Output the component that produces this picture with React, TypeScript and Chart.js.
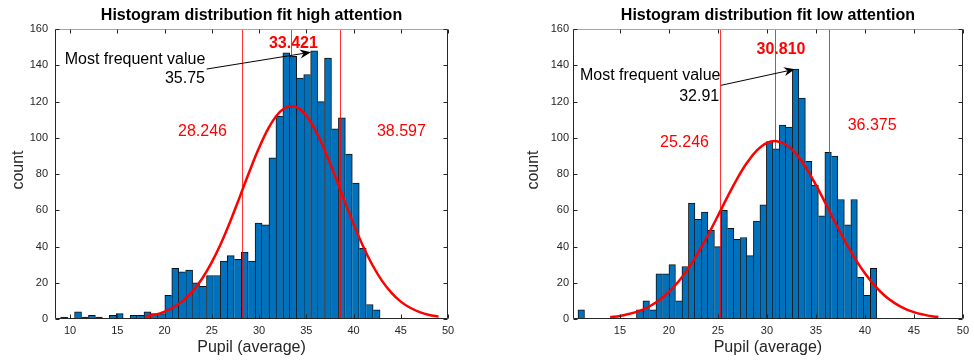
import React, { useEffect, useRef } from "react";
import { Chart, registerables } from "chart.js";

Chart.register(...registerables);

const FONT = "'Liberation Sans', Arial, Helvetica, sans-serif";
const AXIS_COLOR = "#262626";

// ---------- High attention ----------
const highCounts = [
  1, 0, 4, 1, 2, 1, 0, 2, 3, 0,
  2, 2, 4, 3, 3, 13, 28, 26, 27, 20,
  18, 24, 24, 32, 35, 33, 37, 32, 53, 52,
  89, 112, 147, 145, 133, 135, 148, 120, 144, 105,
  111, 91, 75, 39, 8, 5,
];
const highBinStart = 9.0;
const highBinWidth = 0.735;
const highFitX = [18, 19, 20, 21, 22, 23, 24, 25, 26, 27, 28, 29, 30, 31, 32, 33, 34, 35, 36, 37, 38, 39, 40, 41, 42, 43, 44, 45, 46, 47, 48, 49];
const highFitY = [1.4, 2.4, 4.1, 6.6, 10.3, 15.5, 22.5, 31.4, 42.1, 54.5, 68.0, 81.7, 94.5, 105.4, 113.2, 117.1, 116.8, 112.2, 103.8, 92.5, 79.5, 65.8, 52.5, 40.3, 29.8, 21.2, 14.6, 9.6, 6.2, 3.8, 2.2, 1.3];
const highMarkers = [28.246, 33.421, 38.597];
const highXTicks = [10, 15, 20, 25, 30, 35, 40, 45, 50];

// ---------- Low attention ----------
const lowCounts = [
  5, 0, 0, 0, 0, 0, 0, 0, 0, 5,
  10, 5, 25, 25, 30, 10, 29, 64, 55, 59,
  49, 40, 60, 50, 44, 45, 35, 54, 63, 98,
  94, 107, 106, 138, 122, 87, 74, 57, 92, 90,
  66, 52, 66, 23, 13, 28,
];
const lowBinStart = 10.72;
const lowBinWidth = 0.663;
const lowFitX = [14, 15, 16, 17, 18, 19, 20, 21, 22, 23, 24, 25, 26, 27, 28, 29, 30, 31, 32, 33, 34, 35, 36, 37, 38, 39, 40, 41, 42, 43, 44, 45, 46, 47, 47.5];
const lowFitY = [1.0, 1.7, 2.9, 4.5, 6.9, 10.3, 14.9, 20.8, 28.1, 36.7, 46.5, 57.0, 67.7, 77.8, 86.5, 93.2, 97.3, 98.2, 96.1, 91.0, 83.4, 74.0, 63.6, 52.9, 42.7, 33.3, 25.2, 18.4, 13.0, 8.9, 5.9, 3.8, 2.4, 1.4, 1.1];
const lowMarkers = [25.246, 30.81, 36.375];
const lowXTicks = [15, 20, 25, 30, 35, 40, 45, 50];

const yTicks = [0, 20, 40, 60, 80, 100, 120, 140, 160];

type TextItem = { text: string; x: number; y: number; color: string; bold?: boolean; align: CanvasTextAlign };
type Panel = {
  title: string;
  counts: number[];
  binStart: number;
  binWidth: number;
  fitX: number[];
  fitY: number[];
  markers: number[];
  xMin: number;
  xMax: number;
  xTicks: number[];
  yAxisWidth: number;
  rightPad: number;
  yTickPad: number;
  yTitleX: number;
  texts: TextItem[];
  arrow: { x1: number; y1: number; x2: number; y2: number };
};

const panels: Panel[] = [
  {
    title: "Histogram distribution fit high attention",
    counts: highCounts,
    binStart: highBinStart,
    binWidth: highBinWidth,
    fitX: highFitX,
    fitY: highFitY,
    markers: highMarkers,
    xMin: 8.4,
    xMax: 50,
    xTicks: highXTicks,
    yAxisWidth: 55,
    rightPad: 39,
    yTickPad: 7,
    yTitleX: 19,
    texts: [
      { text: "33.421", x: 33.64, y: 151.9, color: "#FF0000", bold: true, align: "center" },
      { text: "28.246", x: 24.01, y: 103.7, color: "#FF0000", align: "center" },
      { text: "38.597", x: 45.07, y: 103.7, color: "#FF0000", align: "center" },
      { text: "Most frequent value", x: 16.87, y: 143.4, color: "#000000", align: "center" },
      { text: "35.75", x: 24.27, y: 132.5, color: "#000000", align: "right" },
    ],
    arrow: { x1: 24.45, y1: 138, x2: 35.49, y2: 147.3 },
  },
  {
    title: "Histogram distribution fit low attention",
    counts: lowCounts,
    binStart: lowBinStart,
    binWidth: lowBinWidth,
    fitX: lowFitX,
    fitY: lowFitY,
    markers: lowMarkers,
    xMin: 10.21,
    xMax: 50,
    xTicks: lowXTicks,
    yAxisWidth: 86,
    rightPad: 7,
    yTickPad: 4,
    yTitleX: 47,
    texts: [
      { text: "30.810", x: 31.44, y: 149, color: "#FF0000", bold: true, align: "center" },
      { text: "25.246", x: 21.59, y: 97.2, color: "#FF0000", align: "center" },
      { text: "36.375", x: 40.74, y: 107, color: "#FF0000", align: "center" },
      { text: "Most frequent value", x: 18.09, y: 134.2, color: "#000000", align: "center" },
      { text: "32.91", x: 25.13, y: 122.7, color: "#000000", align: "right" },
    ],
    arrow: { x1: 25.3, y1: 129, x2: 32.86, y2: 137.9 },
  },
];

function makeDecor(cfg: Panel) {
  return {
    id: "decor",
    afterDatasetsDraw(chart: any) {
      const { ctx, chartArea: a, scales } = chart;
      const xs = scales.x;
      const ys = scales.y;
      ctx.save();
      ctx.beginPath();
      ctx.rect(a.left, a.top, a.right - a.left, a.bottom - a.top);
      ctx.clip();
      ctx.strokeStyle = "rgba(255,0,0,0.8)";
      ctx.lineWidth = 1;
      cfg.markers.forEach((v) => {
        const px = Math.round(xs.getPixelForValue(v)) + 0.5;
        ctx.beginPath();
        ctx.moveTo(px, a.bottom);
        ctx.lineTo(px, a.top);
        ctx.stroke();
      });
      ctx.restore();

      ctx.save();
      cfg.texts.forEach((t) => {
        ctx.font = `${t.bold ? "bold " : ""}16px ${FONT}`;
        ctx.fillStyle = t.color;
        ctx.textAlign = t.align;
        ctx.textBaseline = "middle";
        ctx.fillText(t.text, xs.getPixelForValue(t.x), ys.getPixelForValue(t.y));
      });

      const ar = cfg.arrow;
      const x1 = xs.getPixelForValue(ar.x1);
      const y1 = ys.getPixelForValue(ar.y1);
      const x2 = xs.getPixelForValue(ar.x2);
      const y2 = ys.getPixelForValue(ar.y2);
      const dx = x2 - x1;
      const dy = y2 - y1;
      const len = Math.hypot(dx, dy);
      const ux = dx / len;
      const uy = dy / len;
      const nx = -uy;
      const ny = ux;
      const L = 11;
      const W = 4.5;
      const back = 7.5;
      ctx.strokeStyle = "#000";
      ctx.lineWidth = 1;
      ctx.beginPath();
      ctx.moveTo(x1, y1);
      ctx.lineTo(x2 - ux * back, y2 - uy * back);
      ctx.stroke();
      ctx.fillStyle = "#000";
      ctx.beginPath();
      ctx.moveTo(x2, y2);
      ctx.lineTo(x2 - ux * L + nx * W, y2 - uy * L + ny * W);
      ctx.lineTo(x2 - ux * back, y2 - uy * back);
      ctx.lineTo(x2 - ux * L - nx * W, y2 - uy * L - ny * W);
      ctx.closePath();
      ctx.fill();
      ctx.restore();
    },
    afterDraw(chart: any) {
      const { ctx, chartArea: a, scales } = chart;
      const xs = scales.x;
      const ys = scales.y;
      const L = Math.round(a.left) + 0.5;
      const R = Math.round(a.right) - 0.5;
      const T = Math.round(a.top) + 0.5;
      const B = Math.round(a.bottom) - 0.5;
      ctx.save();
      ctx.lineWidth = 1;
      ctx.strokeStyle = "#a6a6a6";
      ctx.beginPath();
      ctx.moveTo(L, T);
      ctx.lineTo(R, T);
      ctx.stroke();
      ctx.strokeStyle = AXIS_COLOR;
      ctx.beginPath();
      ctx.moveTo(L, T);
      ctx.lineTo(L, B);
      ctx.lineTo(R, B);
      ctx.lineTo(R, T);
      ctx.stroke();
      ctx.beginPath();
      cfg.xTicks.forEach((v) => {
        const px = Math.round(xs.getPixelForValue(v)) + 0.5;
        ctx.moveTo(px, B);
        ctx.lineTo(px, B - 4);
        ctx.moveTo(px, T);
        ctx.lineTo(px, T + 4);
      });
      yTicks.forEach((v) => {
        const py = Math.round(ys.getPixelForValue(v)) + 0.5;
        ctx.moveTo(L, py);
        ctx.lineTo(L + 4, py);
        ctx.moveTo(R, py);
        ctx.lineTo(R - 4, py);
      });
      ctx.stroke();

      ctx.fillStyle = AXIS_COLOR;
      ctx.font = `16px ${FONT}`;
      ctx.textAlign = "center";
      ctx.textBaseline = "middle";
      ctx.fillText("Pupil (average)", (a.left + a.right) / 2, 348);
      ctx.translate(cfg.yTitleX, 170);
      ctx.rotate(-Math.PI / 2);
      ctx.font = `16px ${FONT}`;
      ctx.fillText("count", 0, 0);
      ctx.restore();
    },
  };
}

function HistPanel({ cfg, left }: { cfg: Panel; left: number }) {
  const ref = useRef<HTMLCanvasElement | null>(null);
  useEffect(() => {
    if (!ref.current) return;
    const counts = cfg.counts;
    const barData = counts.map((c, i) => ({ x: cfg.binStart + (i + 0.5) * cfg.binWidth, y: c }));
    const fitData = cfg.fitX.map((x, i) => ({ x, y: cfg.fitY[i] }));
    const chart = new Chart(ref.current, {
      type: "bar",
      data: {
        datasets: [
          {
            type: "line",
            data: fitData,
            borderColor: "#FF0000",
            borderWidth: 2.5,
            pointRadius: 0,
            tension: 0.4,
            fill: false,
            order: 0,
          } as any,
          {
            type: "bar",
            data: barData,
            backgroundColor: "#0072BD",
            borderColor: "#111111",
            borderSkipped: "start",
            borderWidth: (c: any) => {
              const i = c.dataIndex;
              const h = counts[i];
              if (!h) return 0;
              const prev = i > 0 ? counts[i - 1] : -1;
              const next = i < counts.length - 1 ? counts[i + 1] : -1;
              return { top: 1, left: h > prev ? 1 : 0, right: h >= next ? 1 : 0, bottom: 0 };
            },
            barPercentage: 1,
            categoryPercentage: 1,
            order: 1,
          } as any,
        ],
      },
      options: {
        responsive: false,
        animation: false,
        events: [],
        layout: { padding: { left: 0, right: cfg.rightPad, top: 0, bottom: 0 } },
        plugins: {
          legend: { display: false },
          tooltip: { enabled: false },
          title: {
            display: true,
            text: cfg.title,
            color: "#000",
            fullSize: false,
            font: { family: FONT, size: 16, weight: "bold" },
            padding: { top: 6, bottom: 4 },
          },
        },
        scales: {
          x: {
            type: "linear",
            min: cfg.xMin,
            max: cfg.xMax,
            offset: false,
            grid: { display: false, drawTicks: false },
            border: { display: false },
            ticks: {
              color: AXIS_COLOR,
              font: { family: FONT, size: 11 },
              padding: 5,
              maxRotation: 0,
              autoSkip: false,
            },
            afterBuildTicks: (s: any) => {
              s.ticks = cfg.xTicks.map((v) => ({ value: v }));
            },
            afterFit: (s: any) => {
              s.height = 41;
            },
          },
          y: {
            type: "linear",
            min: 0,
            max: 160,
            grid: { display: false, drawTicks: false },
            border: { display: false },
            ticks: {
              color: AXIS_COLOR,
              font: { family: FONT, size: 11 },
              padding: cfg.yTickPad,
            },
            afterBuildTicks: (s: any) => {
              s.ticks = yTicks.map((v) => ({ value: v }));
            },
            afterFit: (s: any) => {
              s.width = cfg.yAxisWidth;
            },
          },
        },
      } as any,
      plugins: [makeDecor(cfg)],
    });
    return () => chart.destroy();
  }, [cfg]);
  return (
    <div style={{ position: "absolute", left, top: 0, width: 487, height: 360 }}>
      <canvas ref={ref} width={487} height={360} style={{ width: 487, height: 360, display: "block" }} />
    </div>
  );
}

export default function App() {
  return (
    <div
      style={{
        position: "fixed",
        left: 0,
        top: 0,
        width: 974,
        height: 360,
        background: "#ffffff",
        overflow: "hidden",
      }}
    >
      <HistPanel cfg={panels[0]} left={0} />
      <HistPanel cfg={panels[1]} left={487} />
    </div>
  );
}
